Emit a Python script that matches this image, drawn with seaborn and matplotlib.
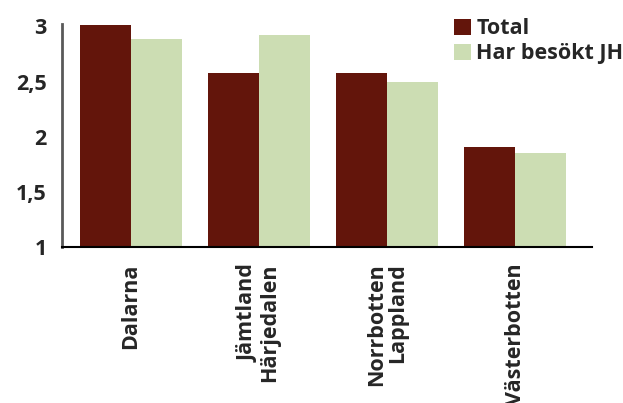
import pandas as pd
import matplotlib
matplotlib.use("Agg")
import matplotlib.pyplot as plt
import seaborn as sns

# data
regions = ["Dalarna", "Jämtland\nHärjedalen", "Norrbotten\nLappland", "Västerbotten"]
total = [3.01, 2.58, 2.58, 1.91]
besokt = [2.89, 2.92, 2.50, 1.85]
series = ["Total", "Har besökt JH"]
colors = ["#63150B", "#CCDDB3"]
yticks = [1, 1.5, 2, 2.5, 3]
ytick_labels = ["1", "1,5", "2", "2,5", "3"]

df = pd.DataFrame({
    "region": regions * 2,
    "serie": [series[0]] * 4 + [series[1]] * 4,
    "varde": total + besokt,
})

sns.set_style("white")
plt.rcParams["font.family"] = ["Open Sans", "DejaVu Sans"]
plt.rcParams["font.weight"] = "bold"

fig, ax = plt.subplots(figsize=(6.23, 4.03), dpi=100)
fig.subplots_adjust(left=0.0995, right=0.950, bottom=0.387, top=0.94)

sns.barplot(data=df, x="region", y="varde", hue="serie", palette=colors,
            saturation=1, width=0.8, linewidth=0, ax=ax)

ax.set_ylim(1, 3.02)
ax.set_xlim(-0.54, 3.6)
ax.set_yticks(yticks)
ax.set_yticklabels(ytick_labels, fontsize=15.5, fontweight="bold")
ax.set_xticks(range(len(regions)))
ax.set_xticklabels(regions, rotation=90, fontsize=15.5, fontweight="bold",
                   va="top", ha="center", multialignment="right",
                   linespacing=1.0)
ax.set_xlabel("")
ax.set_ylabel("")

for side in ["top", "right"]:
    ax.spines[side].set_visible(False)
ax.spines["left"].set_color("#595959")
ax.spines["left"].set_linewidth(2)
ax.spines["bottom"].set_color("black")
ax.spines["bottom"].set_linewidth(1.5)
ax.tick_params(axis="y", length=6, width=1, color="#595959", pad=5)
ax.tick_params(axis="x", length=0, pad=12)

handles, labels = ax.get_legend_handles_labels()
ax.legend_.remove()
fig.legend(handles, labels, loc="upper left", bbox_to_anchor=(0.728, 0.955),
           frameon=False, handlelength=0.8, handleheight=0.75,
           handletextpad=0.25, labelspacing=0.2, borderpad=0,
           borderaxespad=0, prop={"weight": "bold", "size": 15.5})

fig.savefig("out.png", dpi=100)
